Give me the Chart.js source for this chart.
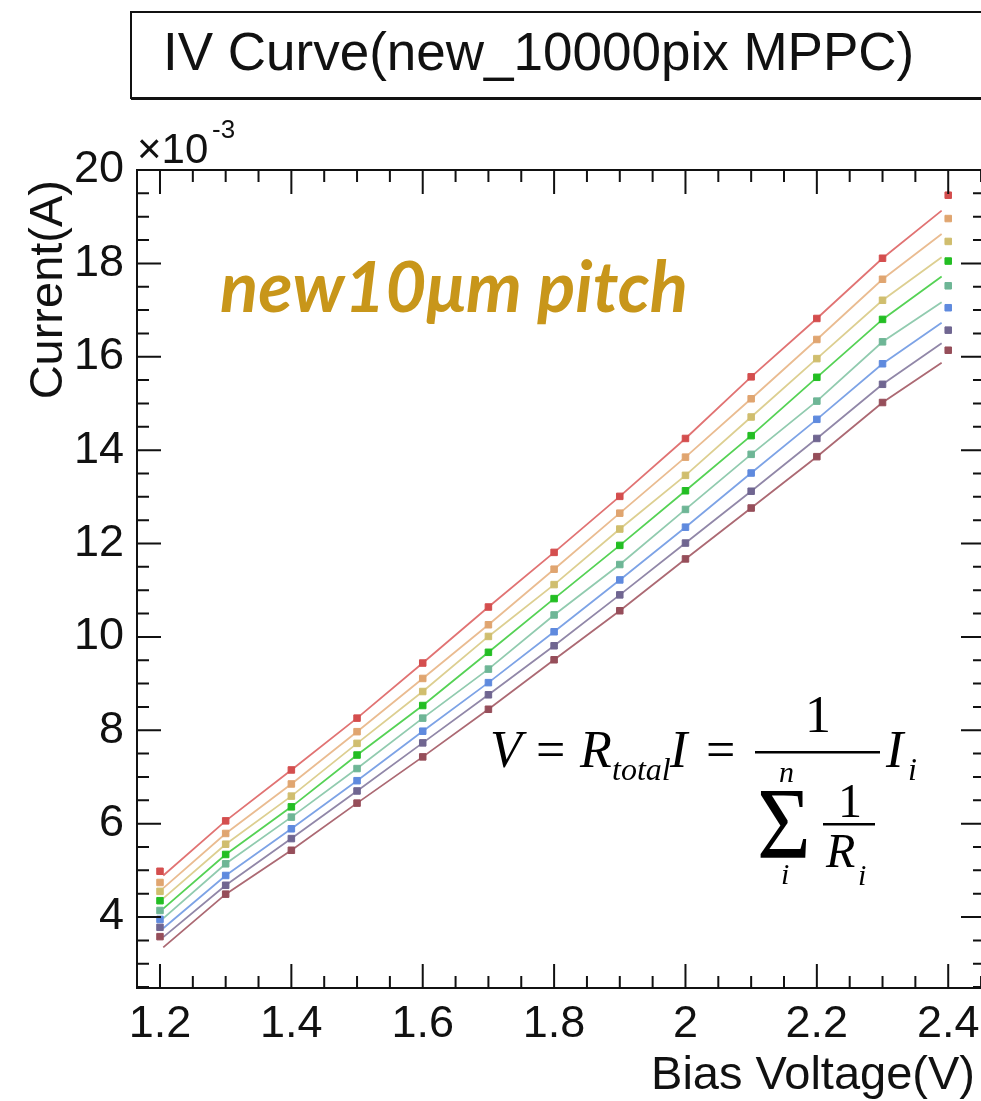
<!DOCTYPE html>
<html>
<head>
<meta charset="utf-8">
<title>IV Curve</title>
<script src="https://cdn.jsdelivr.net/npm/chart.js@4.4.1/dist/chart.umd.min.js"></script>
<style>
html,body{margin:0;padding:0;overflow:hidden;background:#fff;}
#wrap{width:1010px;height:1101px;}
</style>
</head>
<body>
<div id="wrap"><canvas id="ivChart" width="1010" height="1101"></canvas></div>
<script>
// bias voltage steps (V)
const biasV=[1.2,1.3,1.4,1.5,1.6,1.7,1.8,1.9,2.0,2.1,2.2,2.3,2.4];

// current at each step, in units of 1e-3 A
const curRed   =[4.98,6.06,7.15,8.26,9.44,10.64,11.81,13.01,14.25,15.57,16.82,18.11,19.46];
const curOrange=[4.74,5.79,6.85,7.97,9.11,10.26,11.45,12.65,13.85,15.10,16.37,17.66,18.96];
const curYellow=[4.55,5.56,6.59,7.72,8.83,10.01,11.12,12.31,13.46,14.71,15.96,17.21,18.47];
const curGreen =[4.35,5.34,6.36,7.47,8.53,9.67,10.82,11.96,13.13,14.31,15.56,16.80,18.05];
const curTeal  =[4.14,5.14,6.14,7.18,8.26,9.31,10.47,11.55,12.73,13.91,15.05,16.32,17.52];
const curBlue  =[3.95,4.89,5.89,6.92,7.98,9.02,10.11,11.22,12.35,13.51,14.66,15.85,17.05];
const curGray  =[3.78,4.68,5.68,6.70,7.73,8.76,9.81,10.90,12.01,13.12,14.25,15.41,16.57];
const curBrown =[3.58,4.49,5.43,6.44,7.43,8.45,9.51,10.56,11.67,12.76,13.86,15.02,16.14];

// the continuous sweep starts a bit after 1.2 V and stops just before 2.4 V
const sweepFrom=1.205, sweepTo=2.39;
const sweepStart=[4.89,4.62,4.40,4.18,3.97,3.76,3.57,3.35];
const sweepEnd  =[19.13,18.63,18.13,17.72,17.17,16.73,16.29,15.87];

// tick labels
const xTickLabels=['1.2','1.4','1.6','1.8','2','2.2','2.4'];
const yTickLabels=['4','6','8','10','12','14','16','18','20'];

const series=[curRed,curOrange,curYellow,curGreen,curTeal,curBlue,curGray,curBrown];
const lineColors=['rgb(225,115,115)','rgb(234,188,145)','rgb(221,207,145)','rgb(85,210,85)',
                  'rgb(145,203,175)','rgb(125,163,230)','rgb(145,135,168)','rgb(172,105,115)'];
const dotColors =['rgb(212,78,78)','rgb(224,165,112)','rgb(208,190,110)','rgb(35,190,35)',
                  'rgb(110,182,150)','rgb(95,138,222)','rgb(112,102,145)','rgb(150,78,90)'];

const datasets=[];
series.forEach((cur,i)=>{
  // sweep line first, then the step points on top
  const sweep=[{x:sweepFrom,y:sweepStart[i]}];
  for(let k=1;k<biasV.length-1;k++) sweep.push({x:biasV[k],y:cur[k]});
  sweep.push({x:sweepTo,y:sweepEnd[i]});
  datasets.push({data:sweep,showLine:true,borderColor:lineColors[i],borderWidth:1.8,
    pointRadius:0,tension:0,order:2});
  datasets.push({data:biasV.map((v,k)=>({x:v,y:cur[k]})),showLine:false,
    pointStyle:'rect',pointRadius:4.6,pointBackgroundColor:dotColors[i],
    pointBorderColor:dotColors[i],pointBorderWidth:1,order:1});
});

// ROOT style frame, inward ticks on four sides and the text overlays
const rootFrame={
  id:'rootFrame',
  afterDraw(chart){
    const c=chart.ctx,a=chart.chartArea,xs=chart.scales.x,ys=chart.scales.y;
    c.save();
    c.strokeStyle='#111';c.lineWidth=2;
    c.strokeRect(a.left,a.top,a.right-a.left,a.bottom-a.top);
    c.beginPath();
    for(let k=Math.ceil(xs.min/0.05);k<=Math.floor(xs.max/0.05);k++){
      const px=xs.getPixelForValue(k*0.05),len=k%4===0?24:12;
      c.moveTo(px,a.bottom);c.lineTo(px,a.bottom-len);
      c.moveTo(px,a.top);c.lineTo(px,a.top+len);
    }
    for(let k=Math.ceil(ys.min/0.5);k<=Math.floor(ys.max/0.5);k++){
      const py=ys.getPixelForValue(k*0.5),len=k%4===0?24:12;
      c.moveTo(a.left,py);c.lineTo(a.left+len,py);
      c.moveTo(a.right,py);c.lineTo(a.right-len,py);
    }
    c.stroke();

    // title box with shadow
    c.fillStyle='#fff';
    c.fillRect(131,12,900,86);
    c.lineWidth=2;c.strokeStyle='#111';
    c.strokeRect(131,12,900,86);
    c.fillStyle='#111';c.fillRect(131,97,900,3);
    c.font='53px "Liberation Sans", Arial, sans-serif';
    c.textAlign='left';c.textBaseline='alphabetic';
    c.fillText('IV Curve(new_10000pix MPPC)',163,70);

    // exponent
    c.font='42px "Liberation Sans", Arial, sans-serif';
    c.fillText('\u00d710',137,163);
    c.font='26px "Liberation Sans", Arial, sans-serif';
    c.fillText('-3',212,138);

    // axis titles
    c.font='47px "Liberation Sans", Arial, sans-serif';
    c.textAlign='right';
    c.fillText('Bias Voltage(V)',975,1089);
    c.save();
    c.translate(62,180);c.rotate(-Math.PI/2);
    c.fillText('Current(A)',0,0);
    c.restore();

    // gold label
    const tag='new10\u03bcm pitch';
    c.textAlign='left';
    c.font='italic bold 60px Lato, "DejaVu Sans", sans-serif';
    const sz=60*468/c.measureText(tag).width;
    c.font='italic bold '+sz.toFixed(1)+'px Lato, "DejaVu Sans", sans-serif';
    c.fillStyle='#c8961a';
    c.fillText(tag,220,312);

    // formula
    const serif='"Liberation Serif", "Times New Roman", serif';
    c.fillStyle='#000';
    c.font='italic 52px '+serif;
    c.fillText('V',490,767);
    c.fillText('R',580,767);
    c.fillText('I',670,767);
    c.fillText('I',886,767);
    c.font='52px '+serif;
    c.fillText('=',536,767);
    c.fillText('=',706,767);
    c.textAlign='center';
    c.fillText('1',818,732);
    c.font='48px '+serif;
    c.fillText('1',850,817);
    c.textAlign='left';
    c.font='italic 32px '+serif;
    c.fillText('total',612,780);
    c.fillText('i',908,780);
    c.font='italic 30px '+serif;
    c.fillText('n',779,782);
    c.fillText('i',781,884);
    c.fillText('i',858,885);
    c.font='italic 48px '+serif;
    c.fillText('R',826,867);
    c.save();
    c.translate(757,858);c.scale(1.05,1.15);
    c.font='88px '+serif;
    c.fillText('\u03a3',0,0);
    c.restore();
    c.fillRect(755,751,125,2.5);
    c.fillRect(823,823,52,2.5);
    c.restore();
  }
};

new Chart(document.getElementById('ivChart'),{
  type:'scatter',
  data:{datasets},
  options:{
    responsive:false,
    animation:false,
    layout:{padding:{top:170,right:25,left:0,bottom:0}},
    plugins:{legend:{display:false},tooltip:{enabled:false}},
    scales:{
      x:{
        type:'linear',min:1.165,max:2.456,
        grid:{display:false,drawTicks:false},
        border:{display:false},
        ticks:{stepSize:0.2,includeBounds:false,padding:10,color:'#111',autoSkip:false,maxRotation:0,
          font:{family:'"Liberation Sans", Arial, sans-serif',size:45},
          callback:(v,i)=>xTickLabels[i]},
        afterFit(s){s.height=113;}
      },
      y:{
        type:'linear',min:2.48,max:20,
        grid:{display:false,drawTicks:false},
        border:{display:false},
        ticks:{stepSize:2,includeBounds:false,padding:13,color:'#111',autoSkip:false,
          font:{family:'"Liberation Sans", Arial, sans-serif',size:45},
          callback:(v,i)=>yTickLabels[i]},
        afterFit(s){s.width=137;}
      }
    }
  },
  plugins:[rootFrame]
});
</script>
</body>
</html>
